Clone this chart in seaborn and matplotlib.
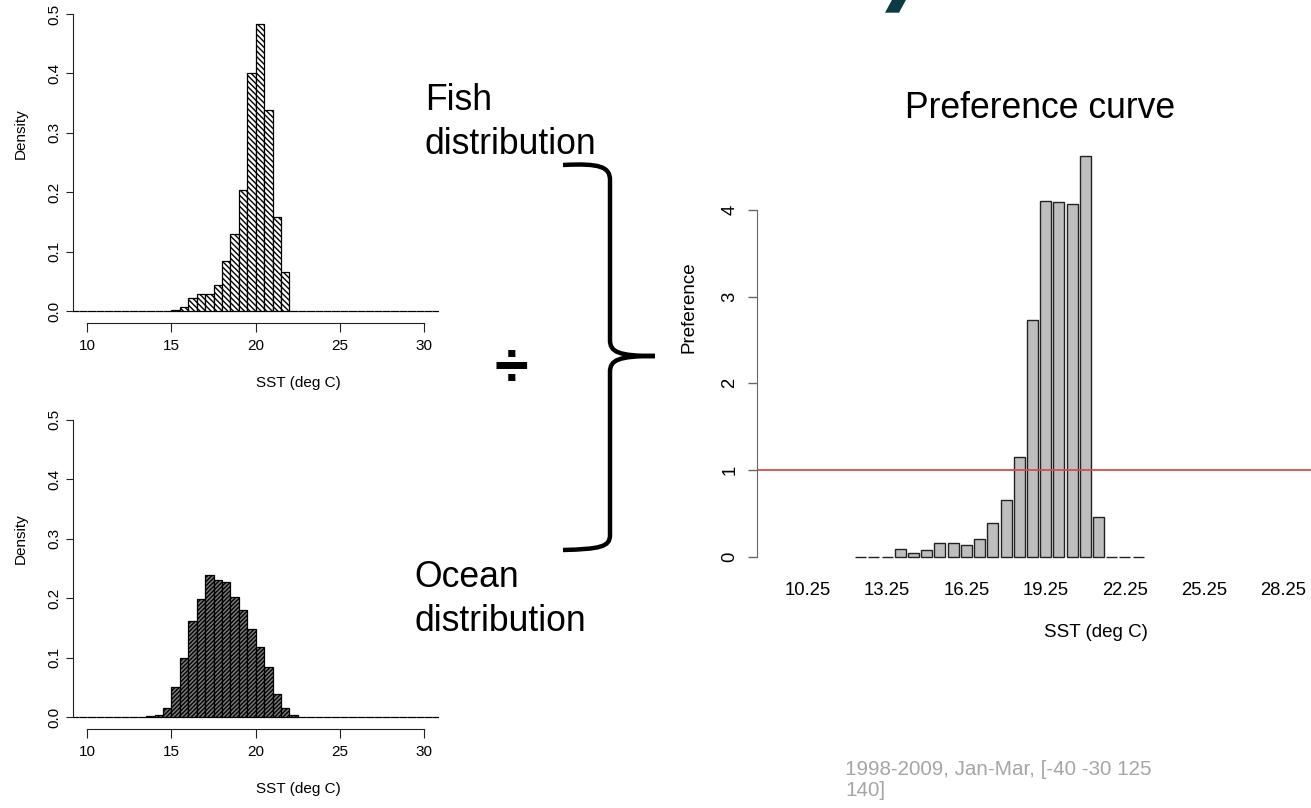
"""Fish vs ocean SST distributions and the resulting preference curve."""

import matplotlib

matplotlib.use("Agg")
import matplotlib.pyplot as plt
import numpy as np
import seaborn as sns
from matplotlib.patches import PathPatch, Polygon
from matplotlib.path import Path

W, H = 1311, 808

# 0.5 deg C histogram bins, 9.0 .. 31.0
bin_edges = np.arange(9.0, 31.01, 0.5)

fish_density = [
    0, 0, 0, 0, 0, 0, 0, 0, 0, 0, 0, 0,
    0.002, 0.006, 0.022, 0.028, 0.028, 0.044, 0.085, 0.129, 0.204, 0.400,
    0.483, 0.338, 0.159, 0.065,
    0, 0, 0, 0, 0, 0, 0, 0, 0, 0, 0, 0, 0, 0, 0, 0, 0, 0,
]
ocean_density = [
    0, 0, 0, 0, 0, 0, 0, 0, 0,
    0.001, 0.003, 0.015, 0.051, 0.099, 0.161, 0.199, 0.239, 0.230, 0.227,
    0.201, 0.180, 0.148, 0.117, 0.084, 0.039, 0.015, 0.003,
    0, 0, 0, 0, 0, 0, 0, 0, 0, 0, 0, 0, 0, 0, 0, 0, 0,
]

pref_sst = [
    12.25, 12.75, 13.25, 13.75, 14.25, 14.75, 15.25, 15.75, 16.25, 16.75, 17.25,
    17.75, 18.25, 18.75, 19.25, 19.75, 20.25, 20.75, 21.25, 21.75, 22.25, 22.75,
]
pref_values = [
    0, 0, 0, 0.094, 0.040, 0.078, 0.153, 0.153, 0.133, 0.200, 0.388,
    0.659, 1.145, 2.730, 4.100, 4.094, 4.070, 4.616, 0.455, 0, 0, 0,
]
pref_ticks = [10.25, 13.25, 16.25, 19.25, 22.25, 25.25, 28.25]

sns.set_style("ticks")
plt.rcParams["font.family"] = ["Liberation Sans", "DejaVu Sans"]
plt.rcParams["hatch.linewidth"] = 1.0
for key in ("text.color", "axes.labelcolor", "xtick.color", "ytick.color"):
    plt.rcParams[key] = "black"


def box(left, top, right, bottom):
    """Pixel box -> figure fraction rect."""
    return [left / W, 1 - bottom / H, (right - left) / W, (bottom - top) / H]


def density_hist(fig, rect, density, face, hatch, ylab_y, xlab_y):
    ax = fig.add_axes(rect)
    sns.histplot(
        x=bin_edges[:-1] + 0.25, weights=density, bins=list(bin_edges), stat="count",
        facecolor=face, edgecolor="black", linewidth=0.9, hatch=hatch,
        alpha=1, ax=ax,
    )
    ax.set_xlim(9.17, 30.87)
    ax.set_ylim(-0.02, 0.52)
    ax.set_xticks([10, 15, 20, 25, 30])
    ax.set_yticks([0, 0.1, 0.2, 0.3, 0.4, 0.5])
    ax.set_yticklabels(["0.0", "0.1", "0.2", "0.3", "0.4", "0.5"])
    sns.despine(ax=ax)
    for side in ("left", "bottom"):
        ax.spines[side].set_color("#222222")
        ax.spines[side].set_linewidth(0.8)
    ax.spines["left"].set_bounds(0, 0.5)
    ax.spines["bottom"].set_bounds(10, 30)
    ax.tick_params(axis="x", length=6.5, width=0.8, color="#222222", pad=5, labelsize=11)
    ax.tick_params(axis="y", length=4.8, width=0.8, color="#222222", pad=4,
                   labelsize=11, labelrotation=90)
    plt.setp(ax.get_yticklabels(), va="center")
    ax.set_xlabel("SST (deg C)", fontsize=11)
    ax.set_ylabel("Density", fontsize=11)
    ax.xaxis.set_label_coords(298 / W, 1 - xlab_y / H, transform=fig.transFigure)
    ax.yaxis.set_label_coords(28 / W, 1 - ylab_y / H, transform=fig.transFigure)
    return ax


fig = plt.figure(figsize=(W / 100, H / 100), dpi=100)

density_hist(fig, box(73.3, 2.1, 438.7, 322.9), fish_density, "white", "\\" * 6, 134, 376)
density_hist(fig, box(73.3, 407.6, 438.7, 728.9), ocean_density, "#7a7a7a", "/" * 8, 539, 782)

# preference = fish / ocean, per bin
pax = fig.add_axes(box(757, 130, 1311, 575))
sns.barplot(
    x=pref_sst, y=pref_values, native_scale=True, orient="x", width=0.833,
    color="#bebebe", saturation=1, edgecolor="#222222", linewidth=1.0,
    errorbar=None, ax=pax,
)
pax.axhline(1, color="#d24e4e", lw=1.3)
pax.set_xlim(8.32, 29.30)
pax.set_ylim(-0.211, 4.92)
pax.set_xticks(pref_ticks)
pax.set_xticklabels([f"{t:.2f}" for t in pref_ticks])
pax.set_yticks([0, 1, 2, 3, 4])
sns.despine(ax=pax, bottom=True)
pax.spines["left"].set_bounds(0, 4)
pax.spines["left"].set_color("#666666")
pax.tick_params(axis="x", length=0, pad=5, labelsize=13.3)
pax.tick_params(axis="y", length=6.5, width=1, color="#666666", pad=7,
                labelsize=13.3, labelrotation=90)
plt.setp(pax.get_yticklabels(), va="center")
pax.set_title("Preference curve", fontsize=25.6, x=0.511, y=1.027, pad=0)
pax.set_xlabel("SST (deg C)", fontsize=13.5)
pax.set_ylabel("Preference", fontsize=13.5)
pax.xaxis.set_label_coords(1096 / W, 1 - 624 / H, transform=fig.transFigure)
pax.yaxis.set_label_coords(698 / W, 1 - 307 / H, transform=fig.transFigure)

# slide annotations in pixel space
ov = fig.add_axes([0, 0, 1, 1])
ov.set_xlim(0, W)
ov.set_ylim(H, 0)
ov.axis("off")

ov.text(425, 83, "Fish\ndistribution", fontsize=25.6, va="top", ha="left", linespacing=1.33)
ov.text(414, 560, "Ocean\ndistribution", fontsize=25.6, va="top", ha="left", linespacing=1.33)
ov.text(511, 386, "÷", fontsize=44, fontweight="bold", va="baseline", ha="center")
ov.text(845, 760, "1998-2009, Jan-Mar, [-40 -30 125\n140]", fontsize=14.9,
        color="#a6a6a6", va="top", ha="left", linespacing=1.12)

C, L, M = Path.CURVE4, Path.LINETO, Path.MOVETO
brace = Path(
    [(563, 165), (600, 163), (610, 167), (610, 180), (610, 340),
     (610, 352), (618, 356), (655, 356), (618, 356), (610, 360), (610, 372),
     (610, 535), (610, 547), (600, 549), (563, 550)],
    [M, C, C, C, L, C, C, C, C, C, C, L, C, C, C],
)
ov.add_patch(PathPatch(brace, fill=False, lw=3.2, color="black", capstyle="butt"))

# bottom of the cropped slide title glyph
ov.add_patch(Polygon([(893, -2), (907, -2), (899, 12.7), (885, 12.7)],
                     closed=True, color="#0d3a47", lw=0))

fig.savefig("out.png", dpi=100)
